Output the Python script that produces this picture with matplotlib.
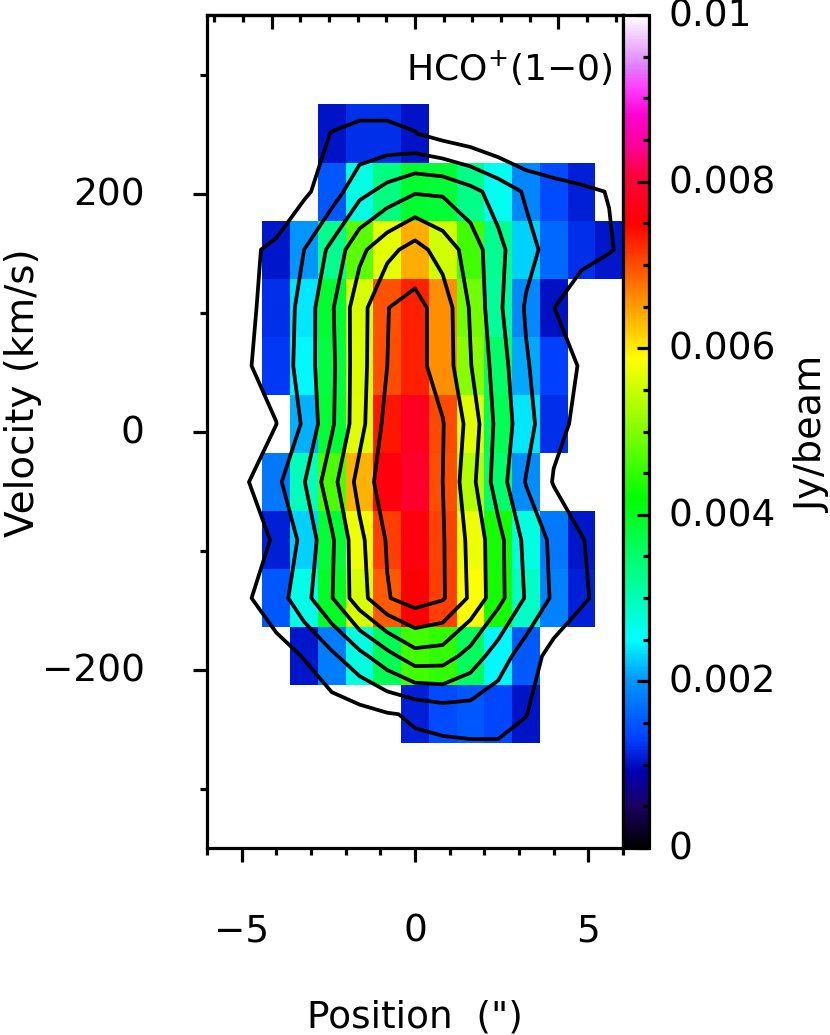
import numpy as np
import matplotlib
matplotlib.use('Agg')
import matplotlib.pyplot as plt
from matplotlib.colors import LinearSegmentedColormap, Normalize
from matplotlib.cm import ScalarMappable
from matplotlib.ticker import MultipleLocator, FixedLocator, NullFormatter
from matplotlib.transforms import ScaledTranslation

plt.rcParams['font.family'] = ['DejaVu Sans']
plt.rcParams['mathtext.default'] = 'regular'

positions = [-5.6, -4.8, -4.0, -3.2, -2.4, -1.6, -0.8, 0.0, 0.8, 1.6, 2.4, 3.2, 4.0, 4.8, 5.6, 6.4]
velocities = [299.2, 250.4, 201.6, 152.8, 104.0, 55.2, 6.4, -42.4, -91.2, -140.0, -188.8, -237.6, -286.4]

# Intensity in mJy/beam, rows top to bottom
flux_mjy = [
 [0.0, 0.0, 0.0, 0.1, 0.2, 0.3, 0.3, 0.3, 0.1, 0.0, 0.0, 0.0, 0.0, 0.0, 0.0, 0.0],
 [0.0, 0.0, 0.4, 0.6, 1.03, 1.2, 1.2, 1.03, 0.6, 0.3, -0.1, -0.5, -0.3, 0.27, 0.0, 0.0],
 [0.0, 0.4, 0.8, 0.83, 1.5, 2.69, 3.34, 3.9, 3.85, 3.3, 2.6, 1.88, 1.4, 1.1, 0.98, 0.5],
 [0.0, 0.96, 1.05, 2.0, 3.27, 4.75, 5.7, 6.4, 5.55, 4.6, 3.25, 2.3, 1.64, 1.2, 1.05, 0.75],
 [0.0, 0.92, 1.2, 2.4, 3.88, 5.6, 6.98, 7.3, 6.6, 4.9, 3.2, 1.9, 1.01, 0.64, 0.3, 0.0],
 [0.0, 0.97, 1.25, 2.48, 3.78, 5.63, 7.0, 7.3, 6.6, 5.05, 3.52, 2.1, 1.3, 0.95, 0.3, 0.0],
 [0.0, 0.5, 0.99, 2.14, 3.85, 5.65, 7.35, 7.8, 7.05, 5.65, 3.65, 2.39, 1.2, 0.84, 0.3, 0.0],
 [0.0, 0.99, 1.77, 2.95, 4.65, 6.35, 7.6, 7.9, 7.0, 5.35, 3.5, 1.95, 0.94, 0.5, 0.2, 0.0],
 [0.0, 0.66, 1.1, 2.29, 3.85, 5.75, 7.09, 7.6, 7.08, 5.75, 4.33, 2.73, 1.77, 1.05, 0.59, 0.0],
 [0.0, 0.94, 1.5, 2.66, 3.95, 5.6, 6.93, 7.5, 7.1, 5.84, 4.33, 2.91, 1.84, 1.1, 0.75, 0.0],
 [0.0, 0.3, 0.66, 1.04, 1.8, 2.7, 3.65, 4.6, 4.5, 3.6, 2.47, 1.51, 0.63, 0.48, 0.1, 0.0],
 [0.0, 0.0, 0.2, 0.4, 0.51, 0.66, 0.93, 1.1, 1.4, 1.5, 1.35, 1.02, 0.6, 0.2, 0.0, 0.0],
 [0.0, 0.0, 0.0, 0.1, 0.2, 0.3, 0.5, 0.68, 0.33, 0.33, 0.53, 0.6, 0.2, 0.0, 0.0, 0.0],
]
contour_levels_mjy = [1, 2, 3, 4, 5, 6, 7]
display_floor_mjy = 1

cmap_values = [0.0, 0.5, 0.9, 1.3, 2.0, 2.5, 4.2, 5.0, 5.88, 7.5, 8.1, 8.4, 8.8, 9.14, 9.4, 10.0]
cmap_colors = ['#000000', '#1a0060', '#0000b0', '#0040ff', '#0095ff', '#00ffff', '#00ff00',
               '#80ff00', '#ffff00', '#ff0000', '#ff0040', '#ff0090', '#ff00d0', '#ff40ff', '#e080ff', '#ffffff']
cbar_major = [0.0, 0.002, 0.004, 0.006, 0.008, 0.01]
cbar_labels = ['0', '0.002', '0.004', '0.006', '0.008', '0.01']
top_axis_scale = 1.209

Z = np.array(flux_mjy) / 1000.0
X = np.array(positions)
Y = np.array(velocities)
vmax = 0.01
cmap = LinearSegmentedColormap.from_list('rb', [(v / 10.0, c) for v, c in zip(cmap_values, cmap_colors)], N=512)
norm = Normalize(0, vmax)

W, H = 830, 1035
fig = plt.figure(figsize=(W / 100, H / 100), dpi=100)
def box(l, r, t, b):
    return [l / W, 1 - b / H, (r - l) / W, (b - t) / H]

FS = 27
LW = 2.3
ax = fig.add_axes(box(207, 623, 15, 848))
ax.pcolormesh(X, Y, np.ma.masked_less(Z, display_floor_mjy / 1000.0), cmap=cmap, norm=norm, shading='nearest')
ax.contour(X, Y, Z, levels=[l / 1000.0 for l in contour_levels_mjy], colors='k', linewidths=2.7, linestyles='solid', corner_mask=False)
ax.set_xlim(-6, 6)
ax.set_ylim(-350, 350)
ax.xaxis.set_major_locator(FixedLocator([-5, 0, 5]))
ax.xaxis.set_minor_locator(MultipleLocator(1))
ax.yaxis.set_major_locator(FixedLocator([-200, 0, 200]))
ax.yaxis.set_minor_locator(MultipleLocator(100))
ax.tick_params(which='major', direction='out', length=10, width=LW, labelsize=FS, pad=35)
ax.tick_params(which='minor', direction='out', length=5, width=LW)
ax.tick_params(axis='x', pad=37.5)
for s in ax.spines.values():
    s.set_linewidth(LW)
ax.set_xlabel('Position  (")', fontsize=FS)
ax.xaxis.set_label_coords(0.5, -0.1815)
ax.set_ylabel('Velocity (km/s)', fontsize=28)
ax.yaxis.set_label_coords(-0.397, 0.547)
ax.text(613, 1035 - 80, r'HC$\mathregular{O}^{+}$(1$-$0)', transform=None, ha='right', va='baseline', fontsize=26)

sec = ax.secondary_xaxis('top', functions=(lambda x: x * top_axis_scale, lambda x: x / top_axis_scale))
sec.xaxis.set_major_locator(FixedLocator([-5, 0, 5]))
sec.xaxis.set_minor_locator(MultipleLocator(1))
sec.xaxis.set_major_formatter(NullFormatter())
sec.tick_params(which='major', direction='in', length=10, width=LW)
sec.tick_params(which='minor', direction='in', length=5, width=LW)
sec.spines['top'].set_linewidth(LW)

cax = fig.add_axes(box(623, 649, 15, 848))
cb = fig.colorbar(ScalarMappable(norm=norm, cmap=cmap), cax=cax)
cb.outline.set_linewidth(LW)
cb.set_ticks(cbar_major, labels=cbar_labels)
cax.yaxis.set_minor_locator(MultipleLocator(0.0005))
cax.tick_params(which='major', direction='in', length=8.6, width=LW, labelsize=FS, pad=14, right=True)
cax.tick_params(which='minor', direction='in', length=4.3, width=LW, right=True)
fig.text(813 / W, 1 - 434 / H, 'Jy/beam', rotation=90, ha='center', va='center', fontsize=27.5)

raise_labels = ScaledTranslation(0, 0.025, fig.dpi_scale_trans)
for lab in list(ax.get_yticklabels()) + list(cax.get_yticklabels()):
    lab.set_transform(lab.get_transform() + raise_labels)

fig.savefig('out.png', dpi=100)
